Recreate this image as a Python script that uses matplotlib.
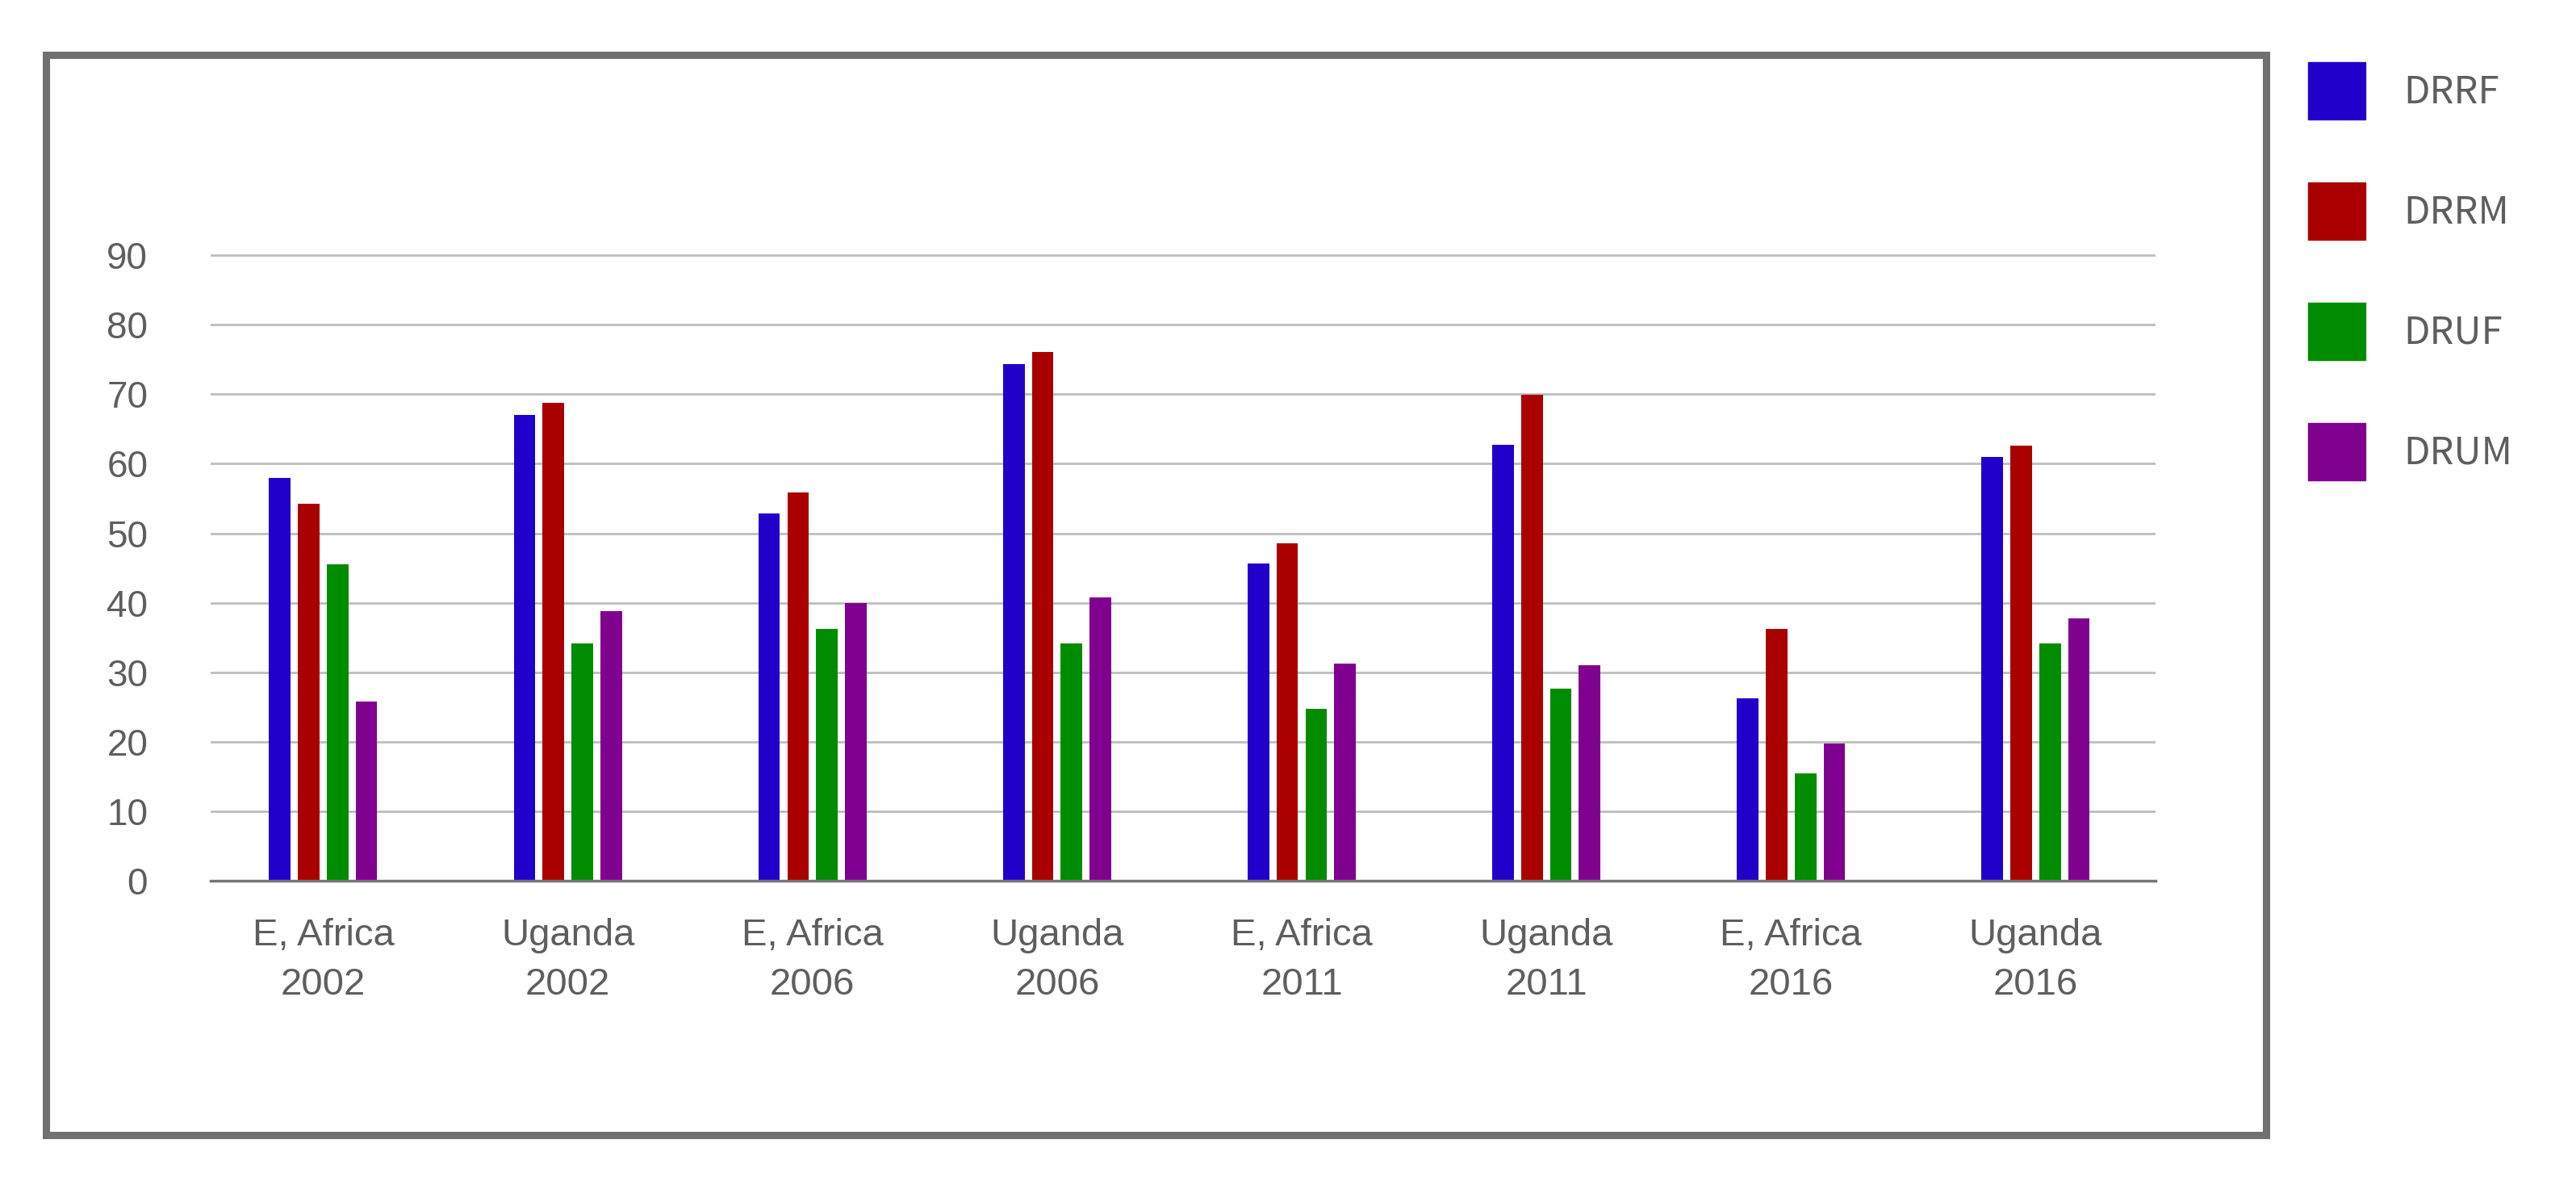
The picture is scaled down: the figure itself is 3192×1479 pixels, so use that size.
import matplotlib
matplotlib.use("Agg")
import matplotlib.pyplot as plt
from matplotlib.patches import Rectangle, Patch
import numpy as np

# Data
categories = ["E, Africa\n2002", "Uganda\n2002", "E, Africa\n2006", "Uganda\n2006",
              "E, Africa\n2011", "Uganda\n2011", "E, Africa\n2016", "Uganda\n2016"]
series_names = ["DRRF", "DRRM", "DRUF", "DRUM"]
drrf = [58, 67, 52.8, 74.3, 45.6, 62.7, 26.3, 61]
drrm = [54.2, 68.8, 55.9, 76.1, 48.5, 69.9, 36.2, 62.6]
druf = [45.5, 34.2, 36.3, 34.2, 24.7, 27.6, 15.5, 34.1]
drum = [25.8, 38.8, 40, 40.8, 31.3, 31, 19.7, 37.8]
y_ticks = [0, 10, 20, 30, 40, 50, 60, 70, 80, 90]

colors = ["#2200cc", "#aa0000", "#008c00", "#800090"]
text_gray = "#5e5e5e"

plt.rcParams['font.family'] = ['Liberation Sans', 'DejaVu Sans']

W, H = 3192, 1479
fig = plt.figure(figsize=(W / 100, H / 100), dpi=100)

# Axes placed in pixel terms
left, right, base, top = 261, 2671, 1091, 299
ax = fig.add_axes([left / W, (H - base) / H, (right - left) / W, (base - top) / H])

x = np.arange(len(categories))
stride = 0.118
width = 0.088
for i, (vals, name) in enumerate(zip([drrf, drrm, druf, drum], series_names)):
    ax.bar(x + (i - 1.5) * stride, vals, width, color=colors[i], label=name, zorder=3)

ax.set_xlim(-0.46, 7.49)
ax.set_ylim(0, 92)
ax.set_yticks(y_ticks)
ax.set_xticks(x)
ax.set_xticklabels(categories, fontsize=34, color=text_gray, linespacing=1.5)
ax.tick_params(axis='y', labelsize=33, labelcolor=text_gray, length=0, pad=56)
ax.tick_params(axis='x', length=0, pad=33)

for spine in ["top", "right", "left"]:
    ax.spines[spine].set_visible(False)
ax.spines["bottom"].set_color("#777777")
ax.spines["bottom"].set_linewidth(2.5)
ax.spines["bottom"].set_zorder(4)

ax.yaxis.grid(True, color="#bdbdbd", linewidth=2.0, zorder=0)
ax.set_axisbelow(True)
ax.get_ygridlines()[0].set_visible(False)

# outer frame around the plot
frame = Rectangle((57 / W, 1 - 1406 / H), (2808 - 57) / W, (1406 - 68) / H,
                  transform=fig.transFigure, fill=False, edgecolor="#707070",
                  linewidth=6.5, zorder=10)
fig.patches.append(frame)

# legend outside the frame, on the right
handles = [Patch(facecolor=c, edgecolor=c, label=n) for c, n in zip(colors, series_names)]
fs = 34
fs_px = fs * 100 / 72
sq = 71
fig.legend(handles=handles, loc="upper left", bbox_to_anchor=(2860 / W, 1 - 77 / H),
           frameon=False, labelcolor=text_gray,
           prop={'family': ['Noto Sans CJK KR', 'DejaVu Sans'], 'size': fs},
           handlelength=sq / fs_px, handleheight=(sq / fs_px - 0.245) / 0.65,
           labelspacing=(149 - sq) / fs_px, handletextpad=47 / fs_px,
           borderpad=0, borderaxespad=0)

fig.savefig("out.png", dpi=100, facecolor="white")
